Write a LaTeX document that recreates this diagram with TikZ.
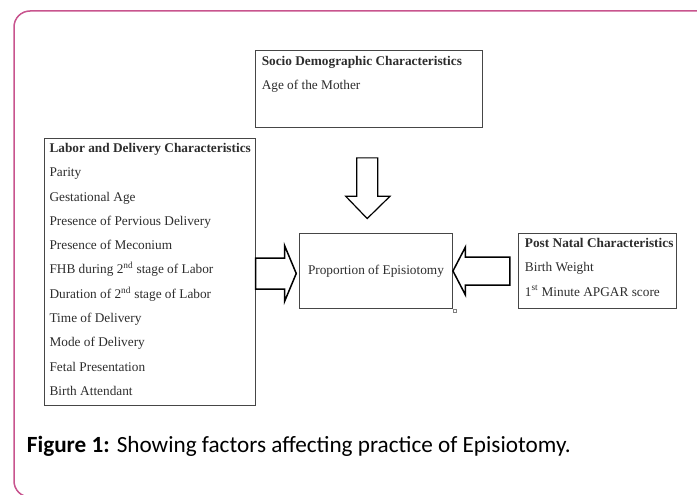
\documentclass[tikz,border=0pt]{standalone}
\usepackage{fontspec}
\setmainfont{Liberation Serif}
\newfontfamily\capfont{Carlito}
\usetikzlibrary{positioning, calc}
\definecolor{framepink}{RGB}{200,84,142}
\definecolor{boxgray}{RGB}{70,70,70}
\definecolor{txtgray}{RGB}{45,45,45}
\tikzset{box/.style={rectangle,draw=boxgray,line width=0.9pt,inner sep=0pt,text=txtgray,font=\fontsize{13.3}{24.3}\selectfont},
  boxtext/.style={anchor=north west,inner sep=0pt,align=left,text=txtgray,font=\fontsize{13.3}{24.3}\selectfont},
  hollow/.style={draw=black,line width=1.5pt,line join=miter}}

\begin{document}
\begin{tikzpicture}[x=1pt,y=-1pt]
\useasboundingbox (0,0) rectangle (697,495);
\draw[framepink,line width=1.5pt,rounded corners=16pt] (14,11) rectangle (740,497);

% boxes
\node[box, minimum width=153pt, minimum height=75pt] (center) at (376,271) {Proportion of Episiotomy};
\node[box, minimum width=211pt, minimum height=267pt, left=43.5pt of center, yshift=-0.5pt] (labor) {};
\node[box, minimum width=158pt, minimum height=75pt, right=65pt of center] (postnatal) {};
\node[box, minimum width=227pt, minimum height=77pt, above=105pt of center, xshift=-7pt] (socio) {};

% box texts
\node[boxtext] (sociotxt) at ($(socio.north west)+(6.5,5.5)$) {\textbf{Socio Demographic Characteristics}\\Age of the Mother};
\node[boxtext] (labortxt) at ($(labor.north west)+(5.7,5.5)$) {\textbf{Labor and Delivery Characteristics}\\
  Parity\\Gestational Age\\Presence of Pervious Delivery\\Presence of Meconium\\
  FHB during 2\textsuperscript{nd} stage of Labor\\Duration of 2\textsuperscript{nd} stage of Labor\\
  Time of Delivery\\Mode of Delivery\\Fetal Presentation\\Birth Attendant};
\node[boxtext] (posttxt) at ($(postnatal.north west)+(6.8,5)$) {\textbf{Post Natal Characteristics}\\Birth Weight\\1\textsuperscript{st} Minute APGAR score};

% block arrows
\draw[hollow, line width=1.2pt] (center.north) ++(-19.3,-75.2) -- ++(21,0) -- ++(0,38.4) -- ++(12.3,0)
  -- ++(-22.8,22.3) -- ++(-21.5,-22.3) -- ++(11,0) -- cycle;
\draw[hollow] (labor.east) ++(0,-13.5) -- ++(29,0) -- ++(0,-12.5) -- ++(11.7,28)
  -- ++(-11.7,28) -- ++(0,-12.5) -- ++(-29,0) -- cycle;
\draw[hollow] (center.east) -- ++(12.5,-24) -- ++(0,10) -- ++(44.3,0) -- ++(0,28)
  -- ++(-44.3,0) -- ++(0,10) -- cycle;
\draw[gray, line width=0.4pt] ($(center.south east)+(0.5,0.5)$) rectangle ++(3,3);

% caption
\node[anchor=base west, inner sep=0pt, font=\capfont\fontsize{23.2}{28}\selectfont] (caption) at (26.7,452.5)
  {\textbf{Figure 1:} Showing factors affecting practice of Episiotomy.};
\end{tikzpicture}
\end{document}
